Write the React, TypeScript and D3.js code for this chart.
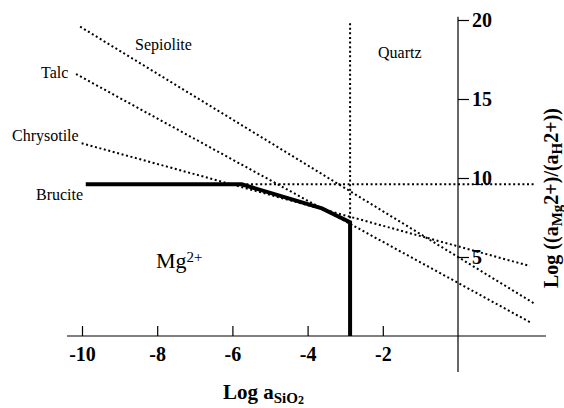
import React, { useLayoutEffect, useRef } from 'react';
import * as d3 from 'd3';

type Pt = [number, number];

// boundary of the Mg2+ field (heavy line)
const mgField: Pt[] = [
  [-9.9, 9.6],
  [-5.75, 9.6],
  [-3.62, 8.08],
  [-2.87, 7.2],
  [-2.87, 0],
];
// dotted saturation lines
const bruciteLine: Pt[] = [[-5.75, 9.6], [2.05, 9.6]];
const quartzLine: Pt[] = [[-2.87, 19.8], [-2.87, 7.2]];
const sepioliteLine: Pt[] = [[-10.05, 19.58], [2.02, 2.07]];
const talcLine: Pt[] = [[-10.16, 16.58], [1.97, 0.8]];
const chrysotileLine: Pt[] = [[-10.01, 12.2], [1.91, 4.43]];

const xTicks = [-10, -8, -6, -4, -2];
const yTicks = [5, 10, 15, 20];

const mineralNames = ['Sepiolite', 'Talc', 'Chrysotile', 'Brucite', 'Quartz'];

const W = 564;
const H = 408;
const serif = '"Liberation Serif", "Times New Roman", Times, serif';

const draw = (el: SVGSVGElement) => {
  const svg = d3.select(el);
  svg.selectAll('*').remove();

  const x = d3.scaleLinear().domain([-10, 0]).range([82, 458]);
  const y = d3.scaleLinear().domain([0, 20]).range([336, 20]);
  const line = d3
    .line<Pt>()
    .x((d) => x(d[0]))
    .y((d) => y(d[1]));

  const g = svg.append('g').attr('font-family', serif);

  // axis lines
  g.append('line')
    .attr('x1', x(-10.4))
    .attr('x2', x(2.34))
    .attr('y1', y(0))
    .attr('y2', y(0))
    .attr('stroke', '#000')
    .attr('stroke-width', 1.2);
  g.append('line')
    .attr('x1', x(0))
    .attr('x2', x(0))
    .attr('y1', y(20.2))
    .attr('y2', y(-2.28))
    .attr('stroke', '#000')
    .attr('stroke-width', 1.2);

  const xAxis = d3
    .axisBottom(x)
    .tickValues(xTicks)
    .tickSizeInner(-10)
    .tickSizeOuter(0)
    .tickPadding(11)
    .tickFormat((d) => String(d));
  const xg = g
    .append('g')
    .attr('transform', `translate(0,${y(0)})`)
    .call(xAxis);
  xg.select('.domain').remove();
  xg.selectAll('line').attr('stroke', '#000').attr('stroke-width', 1.2);
  xg.selectAll('text')
    .attr('font-family', serif)
    .attr('font-size', 20)
    .attr('font-weight', 'bold')
    .attr('fill', '#000');

  const yAxis = d3
    .axisRight(y)
    .tickValues(yTicks)
    .tickSizeInner(11)
    .tickSizeOuter(0)
    .tickPadding(3)
    .tickFormat((d) => String(d));
  const yg = g
    .append('g')
    .attr('transform', `translate(${x(0)},0)`)
    .call(yAxis);
  yg.select('.domain').remove();
  yg.selectAll('line').attr('stroke', '#000').attr('stroke-width', 1.2);
  yg.selectAll('text')
    .attr('font-family', serif)
    .attr('font-size', 20)
    .attr('font-weight', 'bold')
    .attr('fill', '#000');

  // dotted lines
  [bruciteLine, quartzLine, sepioliteLine, talcLine, chrysotileLine].forEach(
    (pts) => {
      g.append('path')
        .attr('d', line(pts))
        .attr('fill', 'none')
        .attr('stroke', '#000')
        .attr('stroke-width', 2)
        .attr('stroke-dasharray', '2 2.6');
    },
  );

  // Mg2+ field boundary
  g.append('path')
    .attr('d', line(mgField))
    .attr('fill', 'none')
    .attr('stroke', '#000')
    .attr('stroke-width', 4)
    .attr('stroke-linejoin', 'miter');

  // mineral labels
  const labelPos: [number, number][] = [
    [135, 50],
    [41, 78],
    [12, 141],
    [36, 200],
    [378, 58],
  ];
  mineralNames.forEach((name, i) => {
    g.append('text')
      .attr('x', labelPos[i][0])
      .attr('y', labelPos[i][1])
      .attr('font-size', 16)
      .attr('fill', '#000')
      .text(name);
  });

  // Mg2+ field label
  const mg = g
    .append('text')
    .attr('x', 156)
    .attr('y', 268)
    .attr('font-size', 22)
    .attr('fill', '#000');
  mg.append('tspan').text('Mg');
  mg.append('tspan').attr('font-size', 15).attr('dy', -6).text('2+');

  // x label
  const xl = g
    .append('text')
    .attr('x', 223)
    .attr('y', 399)
    .attr('font-size', 21)
    .attr('font-weight', 'bold')
    .attr('fill', '#000');
  xl.append('tspan').text('Log a');
  xl.append('tspan').attr('font-size', 15).attr('dy', 4).text('SiO');
  xl.append('tspan').attr('font-size', 12).attr('dy', 1).text('2');

  // y label
  const yl = g
    .append('text')
    .attr('transform', 'translate(558,198) rotate(-90)')
    .attr('text-anchor', 'middle')
    .attr('font-size', 20)
    .attr('font-weight', 'bold')
    .attr('fill', '#000');
  yl.append('tspan').text('Log ((a');
  yl.append('tspan').attr('font-size', 15).attr('dy', 4).text('Mg');
  yl.append('tspan').attr('dy', -4).text('2+)/(a');
  yl.append('tspan').attr('font-size', 15).attr('dy', 4).text('H');
  yl.append('tspan').attr('dy', -4).text('2+))');
};

export default function App() {
  const ref = useRef<SVGSVGElement>(null);

  useLayoutEffect(() => {
    if (ref.current) draw(ref.current);
  }, []);

  return (
    <svg
      ref={ref}
      width={W}
      height={H}
      style={{ position: 'absolute', left: 0, top: 0, background: '#fff' }}
    />
  );
}
